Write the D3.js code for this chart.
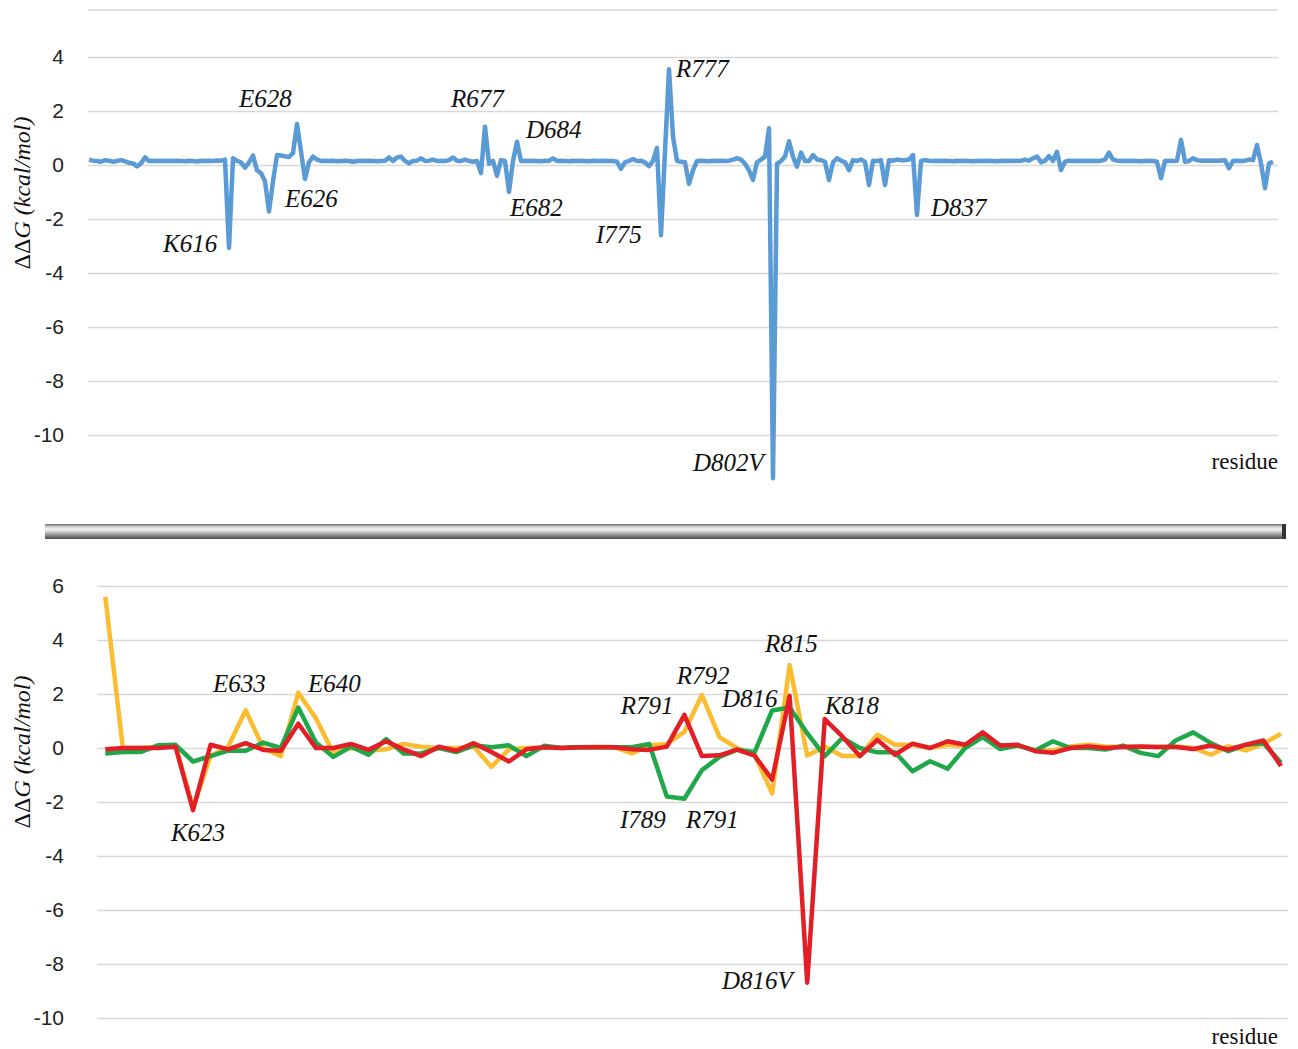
<!DOCTYPE html>
<html>
<head>
<meta charset="utf-8">
<script src="https://cdn.jsdelivr.net/npm/d3@7"></script>
<style>
  body { margin: 0; background: #fff; }
  .tick text { font-family: "Liberation Sans", Arial, sans-serif; font-size: 21px; fill: #222; }
  .lbl { font-family: "Liberation Serif", "Times New Roman", serif; font-style: italic; font-size: 25px; fill: #111; }
</style>
</head>
<body>
<svg id="chart" width="1298" height="1049"></svg>
<script>
// top panel: one value per residue position (blue)
var topValues = [
  0.2, 0.16, 0.15, 0.12, 0.18, 0.16, 0.12, 0.15, 0.18, 0.14,
  0.08, 0.06, -0.05, 0.06, 0.28, 0.15, 0.16, 0.15, 0.16, 0.15,
  0.16, 0.15, 0.16, 0.15, 0.14, 0.16, 0.15, 0.13, 0.16, 0.15,
  0.16, 0.15, 0.17, 0.16, 0.2, -3.07, 0.25, 0.15, 0.1, -0.1,
  0.1, 0.35, -0.2, -0.3, -0.6, -1.72, -0.6, 0.37, 0.35, 0.32,
  0.3, 0.44, 1.52, 0.5, -0.52, 0.1, 0.31, 0.2, 0.15, 0.16,
  0.15, 0.16, 0.14, 0.15, 0.16, 0.15, 0.12, 0.15, 0.16, 0.15,
  0.16, 0.15, 0.14, 0.15, 0.16, 0.28, 0.15, 0.28, 0.31, 0.15,
  0.06, 0.15, 0.16, 0.25, 0.15, 0.16, 0.2, 0.15, 0.16, 0.15,
  0.18, 0.28, 0.16, 0.15, 0.2, 0.15, 0.12, 0.15, -0.3, 1.42,
  0.05, 0.15, -0.4, 0.18, 0.15, -1.0, 0.15, 0.86, 0.15, 0.16,
  0.15, 0.16, 0.15, 0.14, 0.16, 0.15, 0.25, 0.15, 0.16, 0.15,
  0.14, 0.16, 0.15, 0.16, 0.15, 0.14, 0.16, 0.15, 0.15, 0.16,
  0.15, 0.15, 0.12, -0.14, 0.1, 0.15, 0.22, 0.15, 0.16, 0.1,
  -0.04, 0.15, 0.63, -2.6, 0.5, 3.55, 1.05, 0.15, 0.12, 0.1,
  -0.7, -0.2, 0.15, 0.16, 0.15, 0.14, 0.16, 0.15, 0.16, 0.15,
  0.16, 0.2, 0.25, 0.2, 0.05, -0.2, -0.55, 0.1, 0.2, 0.31,
  1.36, -11.6, 0.04, 0.15, 0.31, 0.88, 0.3, -0.06, 0.46, 0.15,
  0.15, 0.37, 0.2, 0.18, 0.12, -0.56, 0.1, 0.25, 0.16, 0.1,
  -0.19, 0.18, 0.15, 0.2, 0.12, -0.74, 0.16, 0.15, 0.18, -0.74,
  0.18, 0.16, 0.2, 0.18, 0.18, 0.2, 0.37, -1.85, 0.15, 0.18,
  0.16, 0.15, 0.16, 0.15, 0.16, 0.15, 0.14, 0.16, 0.15, 0.16,
  0.15, 0.14, 0.15, 0.16, 0.15, 0.16, 0.15, 0.14, 0.16, 0.15,
  0.16, 0.15, 0.16, 0.15, 0.2, 0.16, 0.25, 0.31, 0.1, 0.16,
  0.33, 0.15, 0.49, -0.19, 0.12, 0.16, 0.15, 0.16, 0.15, 0.16,
  0.15, 0.16, 0.15, 0.16, 0.2, 0.46, 0.2, 0.16, 0.15, 0.16,
  0.15, 0.16, 0.15, 0.14, 0.15, 0.16, 0.15, 0.12, -0.49, 0.15,
  0.16, 0.15, 0.16, 0.93, 0.12, 0.15, 0.25, 0.18, 0.16, 0.17,
  0.16, 0.17, 0.16, 0.17, 0.18, -0.12, 0.15, 0.16, 0.15, 0.16,
  0.2, 0.18, 0.74, 0.06, -0.86, 0.06, 0.12
];

// bottom panel: three series on the same 68 positions
var yellowValues = [
  5.6, 0.0, 0.0, 0.05, 0.1, -2.2, -0.3, 0.05, 1.4, 0.0,
  -0.3, 2.05, 1.1, -0.2, 0.0, -0.1, -0.05, 0.15, 0.05, 0.0,
  0.0, 0.05, -0.7, -0.05, 0.0, 0.02, 0.0, 0.03, 0.05, 0.03,
  -0.2, 0.1, 0.15, 0.6, 1.96, 0.4, 0.0, -0.25, -1.68, 3.07,
  -0.28, 0.05, -0.3, -0.3, 0.49, 0.12, 0.12, 0.0, 0.12, 0.06,
  0.49, 0.09, 0.09, -0.09, -0.09, 0.06, 0.12, 0.06, 0.04, 0.04,
  0.04, 0.06, 0.0, -0.25, 0.06, -0.09, 0.16, 0.53
];
var greenValues = [
  -0.2, -0.15, -0.15, 0.1, 0.12, -0.5, -0.3, -0.1, -0.1, 0.2,
  0.0, 1.5, 0.2, -0.33, 0.05, -0.25, 0.33, -0.2, -0.2, 0.0,
  -0.15, 0.1, 0.03, 0.1, -0.3, 0.08, 0.0, 0.03, 0.03, 0.03,
  0.03, 0.15, -1.8, -1.88, -0.82, -0.33, -0.06, -0.16, 1.39, 1.5,
  0.55, -0.3, 0.37, 0.0, -0.16, -0.16, -0.86, -0.49, -0.77, 0.0,
  0.4, -0.04, 0.09, -0.09, 0.25, 0.0, 0.0, -0.06, 0.09, -0.18,
  -0.3, 0.28, 0.58, 0.18, -0.12, 0.12, 0.18, -0.55
];
var redValues = [
  -0.05, 0.0, 0.0, 0.0, 0.05, -2.3, 0.12, -0.05, 0.18, -0.07,
  -0.1, 0.9, 0.0, 0.0, 0.15, -0.07, 0.25, -0.05, -0.3, 0.05,
  -0.1, 0.18, -0.15, -0.5, -0.05, 0.03, 0.0, 0.03, 0.03, 0.03,
  -0.05, -0.07, 0.05, 1.23, -0.3, -0.27, -0.06, -0.28, -1.17, 1.93,
  -8.69, 1.07, 0.43, -0.3, 0.3, -0.25, 0.16, 0.0, 0.25, 0.12,
  0.58, 0.09, 0.12, -0.12, -0.18, 0.0, 0.06, 0.0, 0.04, 0.06,
  0.04, 0.04, -0.04, 0.09, -0.06, 0.12, 0.28, -0.67
];

var topTicks = [-10, -8, -6, -4, -2, 0, 2, 4];
var bottomTicks = [-10, -8, -6, -4, -2, 0, 2, 4, 6];

// annotations, anchored in data units (position index, value)
var topLabels = [
  {text: "E628", i: 37.5, v: 2.15},
  {text: "E626", i: 49, v: -1.55},
  {text: "K616", i: 18.5, v: -3.22},
  {text: "R677", i: 90.5, v: 2.15},
  {text: "D684", i: 109.25, v: 1.0},
  {text: "E682", i: 105.25, v: -1.89},
  {text: "I775", i: 126.75, v: -2.89},
  {text: "R777", i: 146.75, v: 3.26},
  {text: "D802V", i: 151, v: -11.33},
  {text: "D837", i: 210.5, v: -1.89}
];
var bottomLabels = [
  {text: "K623", i: 3.74, v: -3.44},
  {text: "E633", i: 6.14, v: 2.07},
  {text: "E640", i: 11.55, v: 2.07},
  {text: "R791", i: 29.38, v: 1.26},
  {text: "R792", i: 32.57, v: 2.37},
  {text: "D816", i: 35.14, v: 1.52},
  {text: "R815", i: 37.59, v: 3.56},
  {text: "K818", i: 41.01, v: 1.26},
  {text: "I789", i: 29.33, v: -2.96},
  {text: "R791", i: 33.09, v: -2.96},
  {text: "D816V", i: 35.14, v: -8.93}
];

var svg = d3.select("#chart");

function drawPanel(cfg) {
  var g = svg.append("g");
  var x = d3.scaleLinear().domain([0, cfg.n - 1]).range(cfg.xRange);
  var y = d3.scaleLinear().domain([0, 2]).range([cfg.zeroY, cfg.zeroY - 54]);

  var axis = d3.axisLeft(y)
      .tickValues(cfg.ticks)
      .tickFormat(d3.format("d"))
      .tickSize(-(cfg.gridRange[1] - cfg.gridRange[0]))
      .tickPadding(cfg.pad);
  var ax = g.append("g")
      .attr("transform", "translate(" + cfg.gridRange[0] + ",0)")
      .call(axis);
  ax.select(".domain").remove();
  ax.selectAll(".tick line").attr("stroke", "#d9d9d9").attr("stroke-width", 1.5);
  ax.selectAll(".tick text").text(function(d) { return d < 0 ? "-" + Math.abs(d) : d; });

  if (cfg.topLine != null) {
    g.append("line")
      .attr("x1", cfg.gridRange[0]).attr("x2", cfg.gridRange[1])
      .attr("y1", y(cfg.topLine)).attr("y2", y(cfg.topLine))
      .attr("stroke", "#d9d9d9").attr("stroke-width", 1.5);
  }

  var line = d3.line()
      .x(function(d, i) { return x(i); })
      .y(function(d) { return y(d); });

  cfg.series.forEach(function(s) {
    g.append("path")
      .datum(s.values)
      .attr("d", line)
      .attr("fill", "none")
      .attr("stroke", s.color)
      .attr("stroke-width", 4.5)
      .attr("stroke-linejoin", "round");
  });

  g.selectAll("text.lbl")
    .data(cfg.labels)
    .enter().append("text")
      .attr("class", "lbl")
      .attr("x", function(d) { return x(d.i); })
      .attr("y", function(d) { return y(d.v); })
      .text(function(d) { return d.text; });

  g.append("text")
    .attr("x", 1278)
    .attr("y", y(cfg.residueV))
    .attr("text-anchor", "end")
    .style("font-family", "'Liberation Serif', 'Times New Roman', serif")
    .style("font-size", "23px")
    .style("fill", "#111")
    .text("residue");

  var t = g.append("text")
    .attr("transform", "translate(30," + cfg.titleY + ") rotate(-90)")
    .attr("text-anchor", "middle")
    .style("font-family", "'Liberation Serif', 'Times New Roman', serif")
    .style("font-size", "24px")
    .style("fill", "#111");
  t.append("tspan").text("ΔΔ");
  t.append("tspan").style("font-style", "italic").text("G (kcal/mol)");
}

drawPanel({
  n: topValues.length,
  xRange: [89, 1273],
  zeroY: 165,
  ticks: topTicks,
  gridRange: [88, 1278],
  pad: 24,
  topLine: 5.74,
  series: [{values: topValues, color: "#5b9bd5"}],
  labels: topLabels,
  residueV: -11.26,
  titleY: 193
});

drawPanel({
  n: yellowValues.length,
  xRange: [105.3, 1281],
  zeroY: 748,
  ticks: bottomTicks,
  gridRange: [97, 1288],
  pad: 33,
  topLine: null,
  series: [
    {values: yellowValues, color: "#fbbc2f"},
    {values: greenValues, color: "#1fa84a"},
    {values: redValues, color: "#e21f26"}
  ],
  labels: bottomLabels,
  residueV: -10.96,
  titleY: 752
});

// metallic separator between the two panels
var grad = svg.append("defs").append("linearGradient")
    .attr("id", "bar").attr("x1", 0).attr("y1", 0).attr("x2", 0).attr("y2", 1);
[["0%", "#6a6a6a"], ["18%", "#cfcfcf"], ["35%", "#f5f5f5"], ["55%", "#c4c4c4"], ["80%", "#7d7d7d"], ["100%", "#4a4a4a"]]
  .forEach(function(s) { grad.append("stop").attr("offset", s[0]).attr("stop-color", s[1]); });
svg.append("rect")
  .attr("x", 45).attr("y", 524).attr("width", 1241).attr("height", 15)
  .attr("fill", "url(#bar)");
svg.append("rect")
  .attr("x", 1282).attr("y", 524).attr("width", 4).attr("height", 15)
  .attr("fill", "#333");
</script>
</body>
</html>
